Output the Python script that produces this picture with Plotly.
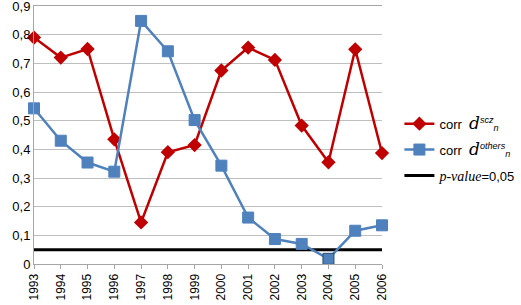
import plotly.graph_objects as go

years = [str(y) for y in range(1993, 2007)]
corr_scz = [0.79, 0.72, 0.75, 0.435, 0.145, 0.39, 0.415, 0.675, 0.755, 0.712, 0.483, 0.355, 0.749, 0.387]
corr_others = [0.543, 0.43, 0.354, 0.322, 0.848, 0.742, 0.502, 0.343, 0.162, 0.087, 0.07, 0.018, 0.116, 0.135]
p_value = [0.05] * len(years)
y_ticks = [0, 0.1, 0.2, 0.3, 0.4, 0.5, 0.6, 0.7, 0.8, 0.9]
y_ticktext = ["0", "0,1", "0,2", "0,3", "0,4", "0,5", "0,6", "0,7", "0,8", "0,9"]

RED = "#C00000"
BLUE = "#4F81BD"
FONT = "Liberation Sans"

dspan = "<span style='font-family:DejaVu Serif;font-size:17px'><i>d</i></span>"
name_scz = "corr  " + dspan + "<sup><i>scz</i></sup><sub><i>n</i></sub>"
name_oth = "corr  " + dspan + "<sup><i>others</i></sup><sub><i>n</i></sub>"
name_p = "<span style='font-family:Liberation Serif;font-size:14px'><i>p-value</i></span>=0,05"

fig = go.Figure()
fig.add_trace(go.Scatter(
    x=years, y=p_value, mode="lines", name=name_p,
    line=dict(color="black", width=3), legendrank=3, legendgroup="c",
))
fig.add_trace(go.Scatter(
    x=years, y=corr_scz, mode="lines+markers", name=name_scz,
    line=dict(color=RED, width=2.5), cliponaxis=False,
    marker=dict(symbol="diamond", size=11, color=RED),
    legendrank=1, legendgroup="a",
))
fig.add_trace(go.Scatter(
    x=years, y=corr_others, mode="lines+markers", name=name_oth,
    line=dict(color=BLUE, width=2.5), cliponaxis=False,
    marker=dict(symbol="square", size=11, color=BLUE,
                line=dict(color=["#4F81BD"] * 11 + ["#2B4A6F"] + ["#4F81BD"] * 2, width=1)),
    legendrank=2, legendgroup="b",
))

fig.update_layout(
    width=521, height=305,
    margin=dict(l=34, r=139, t=6, b=41, autoexpand=False),
    paper_bgcolor="white", plot_bgcolor="white",
    font=dict(family=FONT, size=12, color="black"),
    showlegend=True,
    legend=dict(x=1.05, y=0.443, xanchor="left", yanchor="middle",
                traceorder="grouped", tracegroupgap=6,
                font=dict(size=13, family=FONT),
                bgcolor="rgba(0,0,0,0)", itemwidth=30),
)
fig.update_xaxes(
    type="category", range=[0, 13], tickangle=-90, automargin=False,
    showgrid=False, showline=True, linecolor="#A6A6A6", linewidth=1,
    mirror=True,
    ticks="outside", ticklen=4, tickcolor="#A6A6A6",
    tickfont=dict(size=12, family=FONT), zeroline=False,
    ticklabeloverflow="allow",
)
fig.update_yaxes(
    range=[0, 0.9], tickvals=y_ticks, ticktext=y_ticktext, automargin=False,
    showgrid=True, gridcolor="#BFBFBF", gridwidth=1,
    showline=True, linecolor="#A6A6A6", linewidth=1,
    zeroline=False, tickfont=dict(size=13, family=FONT),
    ticklabeloverflow="allow",
)

fig.write_html("out.html", config={"displayModeBar": False},
               post_script="document.body.style.margin='0';")
